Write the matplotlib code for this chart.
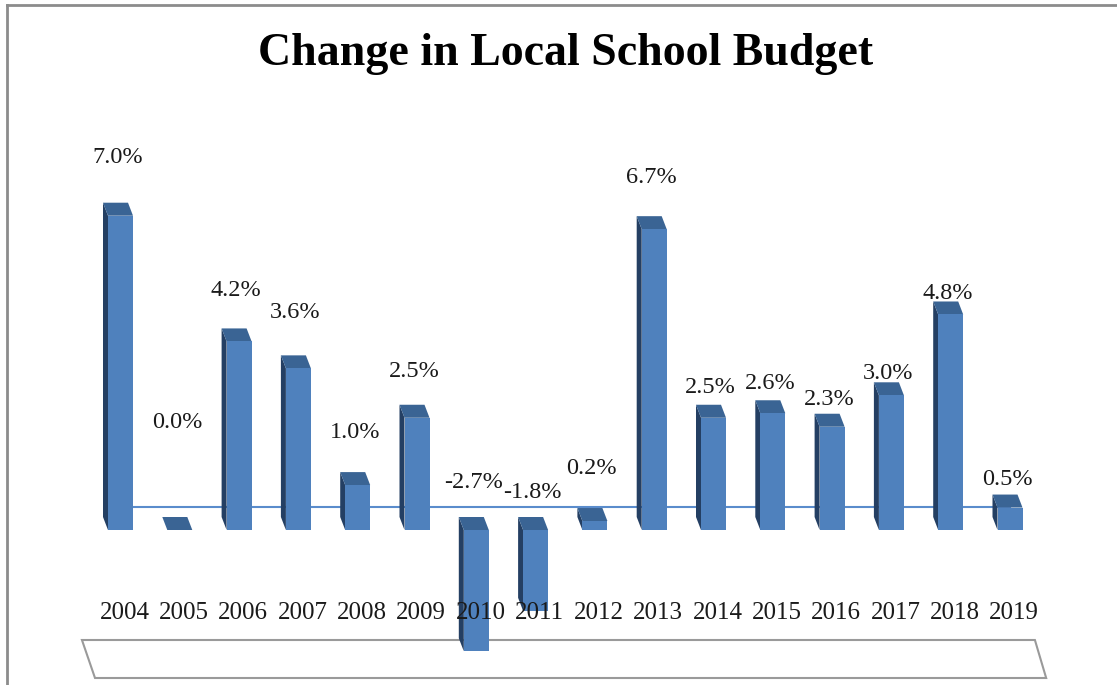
import matplotlib
matplotlib.use('Agg')
import matplotlib.pyplot as plt
from matplotlib.patches import Polygon
from matplotlib.lines import Line2D

# ---- data ----
years = ['2004', '2005', '2006', '2007', '2008', '2009', '2010', '2011',
         '2012', '2013', '2014', '2015', '2016', '2017', '2018', '2019']
changes = [7.0, 0.0, 4.2, 3.6, 1.0, 2.5, -2.7, -1.8,
           0.2, 6.7, 2.5, 2.6, 2.3, 3.0, 4.8, 0.5]
value_labels = [f'{v:.1f}%' for v in changes]
title = 'Change in Local School Budget'

# label placement tweaks (pixels above the bar top), as in the original
label_dy = [58, 107, 51, 56, 53, 46, 47, 37, 53, 52, 30, 30, 27, 22, 21, 28]

# ---- layout ----
W, H = 1117, 685
fig = plt.figure(figsize=(W / 100, H / 100), dpi=100)
ax = fig.add_axes([0, 0, 1, 1])
ax.set_axis_off()

x0px, sx = 120.5, 59.3      # pixel of first category, pixels per category
y0px, sy = 530.0, 44.9      # pixel of zero, pixels per percent
ax.set_xlim(-x0px / sx, (W - x0px) / sx)
ax.set_ylim((y0px - H) / sy, y0px / sy)

serif = ['Liberation Serif', 'DejaVu Serif']
front_c = '#4f81bd'
top_c = '#3a6494'
side_c = '#243f63'

bar_w = 25 / sx
dx = 5 / sx
dy = 13 / sy
n = len(changes)
xs = list(range(n))

# floor (3D base plate)
floor = Polygon([(-0.65, (y0px - 640) / sy), (n - 1 + 0.42, (y0px - 640) / sy),
                 (n - 1 + 0.61, (y0px - 678) / sy), (-0.43, (y0px - 678) / sy)],
                closed=True, facecolor='white', edgecolor='#9a9a9a', lw=1.5, zorder=1)
ax.add_patch(floor)

# back-wall zero line
ax.plot([0, n - 1], [23 / sy, 23 / sy], color='#5a8ccc', lw=1.5, zorder=1.5)

bottoms = [min(v, 0) for v in changes]
heights = [abs(v) for v in changes]
ax.bar(xs, heights, bottom=bottoms, width=bar_w, color=front_c, zorder=4, linewidth=0)

for x, v in zip(xs, changes):
    lo, hi = min(v, 0), max(v, 0)
    xl, xr = x - bar_w / 2, x + bar_w / 2
    side = Polygon([(xl, lo), (xl, hi), (xl - dx, hi + dy), (xl - dx, lo + dy)],
                   closed=True, facecolor=side_c, edgecolor='none', zorder=3)
    top = Polygon([(xl, hi), (xr, hi), (xr - dx, hi + dy), (xl - dx, hi + dy)],
                  closed=True, facecolor=top_c, edgecolor='none', zorder=3)
    ax.add_patch(side)
    ax.add_patch(top)

# value labels
for x, v, lab, d in zip(xs, changes, value_labels, label_dy):
    hi = max(v, 0) + d / sy
    ax.text(x - 0.05, hi, lab, ha='center', va='center', fontsize=17.5,
            family=serif, color='#1a1a1a', zorder=6)

# category labels
for x, yr in zip(xs, years):
    ax.text(x + 0.07, (y0px - 613) / sy, yr, ha='center', va='center',
            fontsize=18, family=serif, color='#1a1a1a', zorder=6)

# title
fig.text(566 / W, 1 - 54 / H, title, ha='center', va='center', fontsize=33,
         fontweight='bold', family=serif, color='black')

# chart border (top and left visible)
fig.add_artist(Line2D([7 / W, 7 / W], [0, 1 - 5 / H], transform=fig.transFigure,
                      color='#8c8c8c', lw=2))
fig.add_artist(Line2D([7 / W, 1], [1 - 5 / H, 1 - 5 / H], transform=fig.transFigure,
                      color='#8c8c8c', lw=2))

fig.savefig('out.png', dpi=100)
